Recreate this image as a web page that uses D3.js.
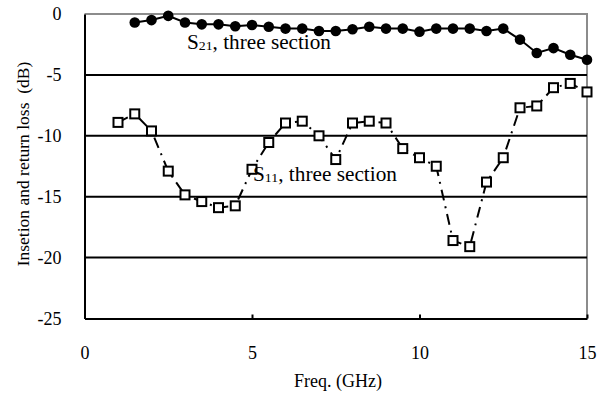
<!DOCTYPE html>
<html>
<head>
<meta charset="utf-8">
<script src="https://cdn.jsdelivr.net/npm/d3@7"></script>
<style>
  body { margin: 0; background: #fff; }
  text { font-family: "Liberation Serif", "Times New Roman", serif; fill: #000; }
</style>
</head>
<body>
<div id="chart"></div>
<script>
// frequency points (GHz)
var s21Freq = [1.5, 2, 2.5, 3, 3.5, 4, 4.5, 5, 5.5, 6, 6.5, 7, 7.5, 8, 8.5, 9, 9.5, 10, 10.5, 11, 11.5, 12, 12.5, 13, 13.5, 14, 14.5, 15];
var s21Vals = [-0.7, -0.5, -0.15, -0.7, -0.85, -0.85, -1.0, -0.9, -1.05, -1.2, -1.2, -1.4, -1.4, -1.25, -1.05, -1.2, -1.2, -1.45, -1.2, -1.2, -1.2, -1.4, -1.2, -2.1, -3.2, -2.8, -3.35, -3.75];

var s11Freq = [1, 1.5, 2, 2.5, 3, 3.5, 4, 4.5, 5, 5.5, 6, 6.5, 7, 7.5, 8, 8.5, 9, 9.5, 10, 10.5, 11, 11.5, 12, 12.5, 13, 13.5, 14, 14.5, 15];
var s11Vals = [-8.9, -8.2, -9.6, -12.9, -14.85, -15.4, -15.9, -15.75, -12.75, -10.55, -8.95, -8.8, -10.0, -11.95, -8.95, -8.8, -8.95, -11.05, -11.8, -12.5, -18.6, -19.1, -13.8, -11.8, -7.7, -7.55, -6.05, -5.7, -6.4];

var xTicks = [0, 5, 10, 15];
var yTicks = [0, -5, -10, -15, -20, -25];

var width = 607, height = 396;
var margin = {left: 84.5, right: 20, top: 14, bottom: 77.5};

var svg = d3.select("#chart").append("svg")
    .attr("width", width)
    .attr("height", height);

var x = d3.scaleLinear().domain([0, 15]).range([margin.left, width - margin.right]);
var y = d3.scaleLinear().domain([-25, 0]).range([height - margin.bottom, margin.top]);

// plain hyphen labels like the original
var plain = function(d) { return String(d); };

// grey border on top and right
svg.append("path")
    .attr("d", "M" + x(0) + "," + y(0) + "H" + x(15) + "V" + y(-25))
    .attr("fill", "none")
    .attr("stroke", "#8c8c8c")
    .attr("stroke-width", 2);

// gridlines
svg.append("g").selectAll("line")
    .data(yTicks.filter(function(d) { return d < 0 && d > -25; }))
    .enter().append("line")
    .attr("x1", x(0)).attr("x2", x(15))
    .attr("y1", function(d) { return y(d); })
    .attr("y2", function(d) { return y(d); })
    .attr("stroke", "#000")
    .attr("stroke-width", 2);

// x axis, ticks pointing inward
var xAxis = svg.append("g")
    .attr("transform", "translate(0," + y(-25) + ")")
    .call(d3.axisBottom(x).tickValues(xTicks).tickFormat(plain).tickSizeInner(-4).tickSizeOuter(0).tickPadding(28));
xAxis.select(".domain").attr("stroke", "#000").attr("stroke-width", 2);
xAxis.selectAll(".tick line").attr("stroke-width", 2);
xAxis.selectAll("text").attr("font-size", 18).attr("font-family", "Liberation Serif");

// y axis
var yAxis = svg.append("g")
    .attr("transform", "translate(" + x(0) + ",0)")
    .call(d3.axisLeft(y).tickValues(yTicks).tickFormat(plain).tickSize(0).tickPadding(23));
yAxis.select(".domain").attr("stroke", "#000").attr("stroke-width", 2);
yAxis.selectAll("text").attr("font-size", 18).attr("font-family", "Liberation Serif");

// axis titles
svg.append("text")
    .attr("x", 338).attr("y", 387)
    .attr("text-anchor", "middle")
    .attr("font-size", 18)
    .text("Freq. (GHz)");

svg.append("text")
    .attr("transform", "translate(29,164) rotate(-90)")
    .attr("text-anchor", "middle")
    .attr("font-size", 17.5)
    .attr("xml:space", "preserve")
    .text("Insetion and return loss  (dB)");

// S11 line and markers
var s11 = s11Freq.map(function(f, i) { return {x: f, y: s11Vals[i]}; });
var s21 = s21Freq.map(function(f, i) { return {x: f, y: s21Vals[i]}; });

var line = d3.line()
    .x(function(d) { return x(d.x); })
    .y(function(d) { return y(d.y); });

svg.append("path")
    .datum(s11)
    .attr("d", line)
    .attr("fill", "none")
    .attr("stroke", "#000")
    .attr("stroke-width", 2)
    .attr("stroke-dasharray", "11,6,2,6");

svg.append("g").selectAll("rect")
    .data(s11)
    .enter().append("rect")
    .attr("x", function(d) { return x(d.x) - 4.5; })
    .attr("y", function(d) { return y(d.y) - 4.5; })
    .attr("width", 9).attr("height", 9)
    .attr("fill", "#fff")
    .attr("stroke", "#000")
    .attr("stroke-width", 2);

// S21 line and markers
svg.append("path")
    .datum(s21)
    .attr("d", line)
    .attr("fill", "none")
    .attr("stroke", "#000")
    .attr("stroke-width", 2);

svg.append("g").selectAll("circle")
    .data(s21)
    .enter().append("circle")
    .attr("cx", function(d) { return x(d.x); })
    .attr("cy", function(d) { return y(d.y); })
    .attr("r", 5.3)
    .attr("fill", "#000");

// series labels
function seriesLabel(px, py, sub) {
    var t = svg.append("text")
        .attr("x", px).attr("y", py)
        .attr("font-size", 20)
        .attr("textLength", 144)
        .attr("lengthAdjust", "spacingAndGlyphs");
    t.append("tspan").text("S");
    t.append("tspan").attr("font-size", 13).attr("dy", 1).text(sub);
    t.append("tspan").attr("dy", -1).text(", three section");
}
seriesLabel(187, 49, "21");
seriesLabel(253, 181, "11");
</script>
</body>
</html>
